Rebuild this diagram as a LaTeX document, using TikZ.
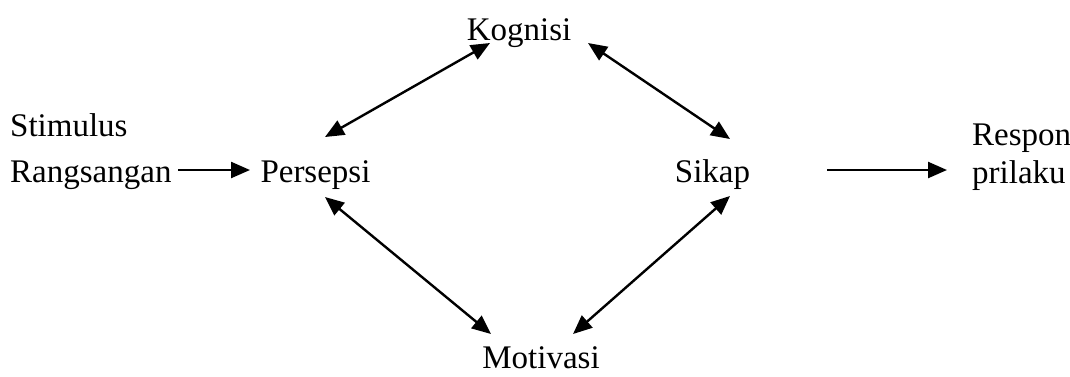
\documentclass[tikz,border=0pt]{standalone}
\usepackage{fontspec}
\setmainfont{Liberation Serif}
\usetikzlibrary{arrows.meta}
\begin{document}
\begin{tikzpicture}[x=1pt,y=1pt,
  lbl/.style={inner sep=0pt,font=\fontsize{33}{39}\selectfont},
  tip/.style={Triangle[length=19pt,width=16pt]},
  conn/.style={line width=2.4pt,{Triangle[length=19pt,width=16pt]}-{Triangle[length=19pt,width=16pt]}},
  oneway/.style={line width=2.4pt,-{Triangle[length=19pt,width=16pt]}}]
\useasboundingbox (0,0) rectangle (1070,-376);
\node[lbl,anchor=base west] (stim) at (10,-136) {Stimulus};
\node[lbl,anchor=base west] (rang) at (10,-182) {Rangsangan};
\node[lbl,anchor=base] (pers) at (315.5,-182) {Persepsi};
\node[lbl,anchor=base] (kog) at (519,-40) {Kognisi};
\node[lbl,anchor=base] (sik) at (712.5,-182) {Sikap};
\node[lbl,anchor=base] (mot) at (541,-368) {Motivasi};
\node[lbl,anchor=base west] (resp) at (972,-145) {Respon};
\node[lbl,anchor=base west] (pril) at (972,-183) {prilaku};
\draw[oneway] ([shift={(168,12)}]rang.base west) -- ([shift={(-65.5,12)}]pers.base);
\draw[oneway] ([shift={(114.5,12)}]sik.base) -- ([shift={(-25,13)}]pril.base west);
\draw[conn] ([shift={(9.5,45)}]pers.base) -- ([shift={(-29,-3)}]kog.base);
\draw[conn] ([shift={(69,-3)}]kog.base) -- ([shift={(17.5,43)}]sik.base);
\draw[conn] ([shift={(9.5,-15)}]pers.base) -- ([shift={(-50,34)}]mot.base);
\draw[conn] ([shift={(17.5,-14)}]sik.base) -- ([shift={(32,34)}]mot.base);
\end{tikzpicture}
\end{document}
